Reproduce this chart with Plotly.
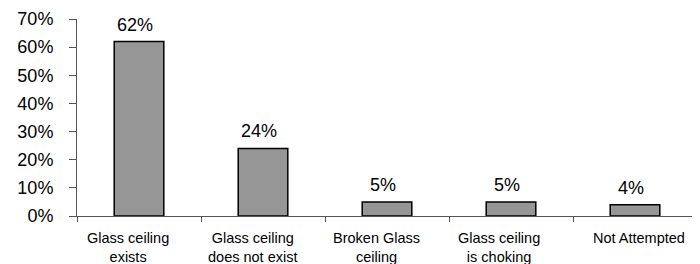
import plotly.graph_objects as go

categories = ["Glass ceiling exists", "Glass ceiling does not exist", "Broken Glass ceiling",
              "Glass ceiling is choking", "Not Attempted"]
category_labels = ["Glass ceiling<br>exists", "Glass ceiling<br>does not exist", "Broken Glass<br>ceiling",
                   "Glass ceiling<br>is choking", "Not Attempted"]
values = [0.62, 0.24, 0.05, 0.05, 0.04]
y_ticks = [0, 0.1, 0.2, 0.3, 0.4, 0.5, 0.6, 0.7]
y_tick_labels = ["0%", "10%", "20%", "30%", "40%", "50%", "60%", "70%"]

label_xshift = [-11, -11, -11, -12, 4]

fig = go.Figure(go.Bar(
    x=categories, y=values,
    marker=dict(color="#969696", line=dict(color="black", width=1.5)),
    width=0.4,
))

font_family = "Liberation Sans, Arial"
annotations = []
for c, v in zip(categories, values):
    annotations.append(dict(
        x=c, y=v, xref="x", yref="y", text=f"{round(v*100)}%", showarrow=False,
        yanchor="bottom", xanchor="center", yshift=5, xshift=-4,
        font=dict(family=font_family, size=18, color="black"),
    ))
for c, lab, dx in zip(categories, category_labels, label_xshift):
    annotations.append(dict(
        x=c, y=0, xref="x", yref="y", text=lab, showarrow=False,
        yanchor="top", xanchor="center", yshift=-12, xshift=dx,
        font=dict(family=font_family, size=14.5, color="black"),
    ))

fig.update_layout(
    width=700, height=264,
    margin=dict(l=69, r=11, t=11, b=56),
    paper_bgcolor="white", plot_bgcolor="white",
    font=dict(family=font_family, color="black"),
    showlegend=False,
    annotations=annotations,
)
fig.update_xaxes(
    type="category", tickson="boundaries", ticks="outside", ticklen=5, tickcolor="#555",
    showline=True, linecolor="#555", linewidth=1, automargin=False,
    showticklabels=False, showgrid=False,
)
fig.update_yaxes(
    range=[0, 0.7], tickvals=y_ticks, ticktext=y_tick_labels,
    ticks="outside", ticklen=7, tickcolor="#555",
    showline=True, linecolor="#555", linewidth=1, automargin=False,
    tickfont=dict(size=18), showgrid=False, zeroline=False, ticklabelstandoff=12,
)

fig.write_html("out.html")
